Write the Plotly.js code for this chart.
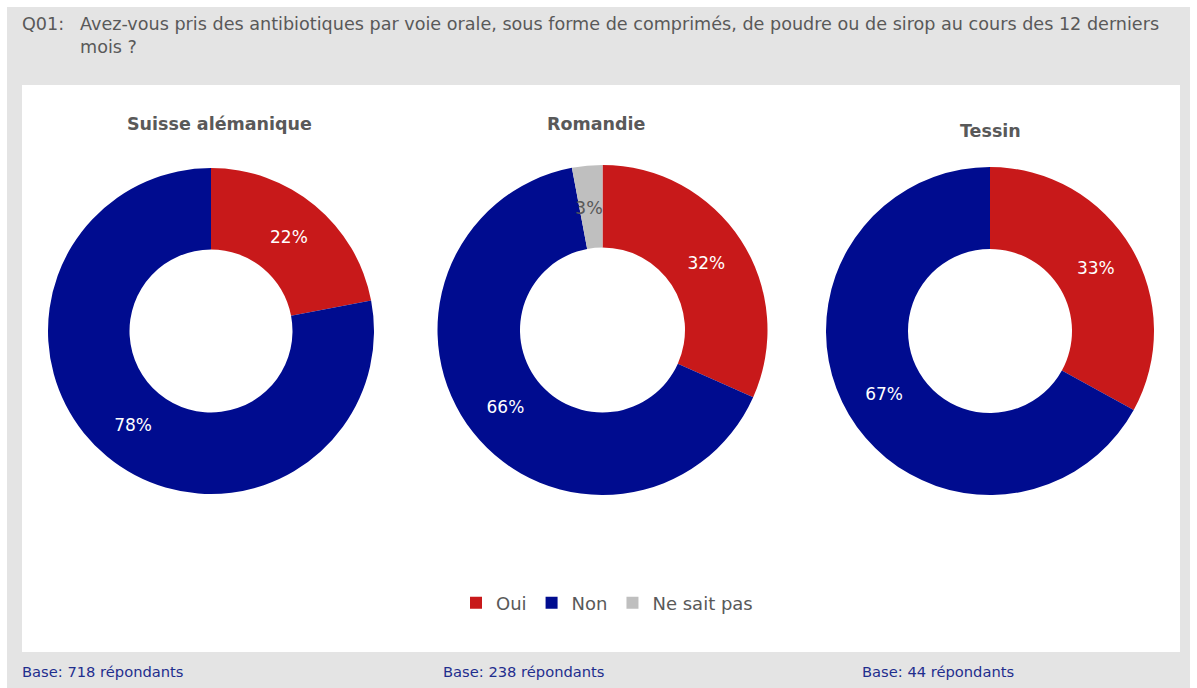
<!DOCTYPE html>
<html>
<head>
<meta charset="utf-8">
<script src="https://cdn.plot.ly/plotly-3.0.1.min.js"></script>
<style>html,body{margin:0;padding:0;background:#fff;}#chart{width:1197px;height:688px;}</style>
</head>
<body>
<div id="chart"></div>
<script>
// ---- data ----
const categories = ["Oui", "Non", "Ne sait pas"];
const regions = ["Suisse alémanique", "Romandie", "Tessin"];
const valuesSuisseAlemanique = [22, 78, 0];
const valuesRomandie = [32, 66, 3];
const valuesTessin = [33, 67, 0];
const baseCounts = [718, 238, 44];
const questionLabel = "Q01:";
const questionText = "Avez-vous pris des antibiotiques par voie orale, sous forme de comprimés, de poudre ou de sirop au cours des 12 derniers<br>mois ?";

// ---- styles ----
const sliceColors = ["#C8191A", "#000C8F", "#BFBFBF"];
const textColors = ["#FFFFFF", "#FFFFFF", "#595959"];
const W = 1197, H = 688;
const px = v => v / W;
const py = v => 1 - v / H;
const HOLE = 0.5;
const SMALL = 5; // slices below this value get their label drawn unscaled

const allValues = [valuesSuisseAlemanique, valuesRomandie, valuesTessin];
// pie geometry in pixels: center x, center y, radius
const geo = [[211, 331, 163], [602.5, 330, 165], [990, 331, 164]];
const titleY = [124, 124, 131];
const titleX = [219, 596, 990];
const baseX = [20, 441, 860];

const annotations = [];

const traces = allValues.map((vals, i) => {
  const [cx, cy, r] = geo[i];
  // labels for small slices: placed at the slice's mid-angle on the ring centre line
  const total = vals.reduce((a, b) => a + b, 0);
  let cum = 0;
  vals.forEach((v, k) => {
    const mid = (cum + v / 2) / total * 2 * Math.PI;
    cum += v;
    if (v > 0 && v < SMALL) {
      const rr = r * (1 + HOLE) / 2;
      annotations.push({
        text: v + "%", xref: "paper", yref: "paper",
        x: px(cx + rr * Math.sin(mid) - 2), y: py(cy - rr * Math.cos(mid) + 1),
        xanchor: "center", yanchor: "middle", showarrow: false,
        font: { family: "DejaVu Sans", size: 17.5, color: textColors[k] }
      });
    }
  });
  return {
    type: "pie",
    labels: categories,
    values: vals,
    text: vals.map(v => v >= SMALL ? v + "%" : ""),
    textinfo: "text",
    textposition: "inside",
    insidetextorientation: "horizontal",
    hole: HOLE,
    sort: false,
    direction: "clockwise",
    rotation: 0,
    marker: { colors: sliceColors, line: { width: 0 } },
    textfont: { family: "DejaVu Sans", size: 17, color: textColors },
    domain: { x: [px(cx - r), px(cx + r)], y: [py(cy + r), py(cy - r)] },
    showlegend: i === 1,
    hoverinfo: "label+text+name",
    name: regions[i]
  };
});

regions.forEach((r, i) => {
  annotations.push({
    text: "<b>" + r + "</b>", xref: "paper", yref: "paper",
    x: px(titleX[i]), y: py(titleY[i]), xanchor: "center", yanchor: "middle",
    showarrow: false, font: { family: "DejaVu Sans", size: 17.5, color: "#595959" }
  });
  annotations.push({
    text: "Base: " + baseCounts[i] + " répondants", xref: "paper", yref: "paper",
    x: px(baseX[i]), y: py(671), xanchor: "left", yanchor: "middle",
    showarrow: false, font: { family: "DejaVu Sans", size: 14.7, color: "#1F2E8E" }
  });
});
annotations.push({
  text: questionLabel, xref: "paper", yref: "paper",
  x: px(20), y: py(12), xanchor: "left", yanchor: "top", showarrow: false,
  font: { family: "DejaVu Sans", size: 17.6, color: "#595959" }
});
annotations.push({
  text: questionText, xref: "paper", yref: "paper", align: "left",
  x: px(78), y: py(12), xanchor: "left", yanchor: "top", showarrow: false,
  font: { family: "DejaVu Sans", size: 17.6, color: "#595959" }
});

const layout = {
  width: W, height: H,
  margin: { l: 0, r: 0, t: 0, b: 0 },
  paper_bgcolor: "#FFFFFF",
  plot_bgcolor: "#FFFFFF",
  showlegend: true,
  legend: {
    orientation: "h", x: px(607), xanchor: "center", y: py(603), yanchor: "middle",
    font: { family: "DejaVu Sans", size: 18, color: "#595959" },
    bgcolor: "rgba(0,0,0,0)", traceorder: "normal",
    itemclick: false, itemdoubleclick: false
  },
  shapes: [
    { type: "rect", xref: "paper", yref: "paper", layer: "below",
      x0: px(7), x1: px(1190), y0: py(688), y1: py(7), fillcolor: "#E4E4E4", line: { width: 0 } },
    { type: "rect", xref: "paper", yref: "paper", layer: "below",
      x0: px(22), x1: px(1180), y0: py(652), y1: py(85), fillcolor: "#FFFFFF", line: { width: 0 } }
  ],
  annotations: annotations
};

Plotly.newPlot("chart", traces, layout, { displayModeBar: false, staticPlot: true });
</script>
</body>
</html>
